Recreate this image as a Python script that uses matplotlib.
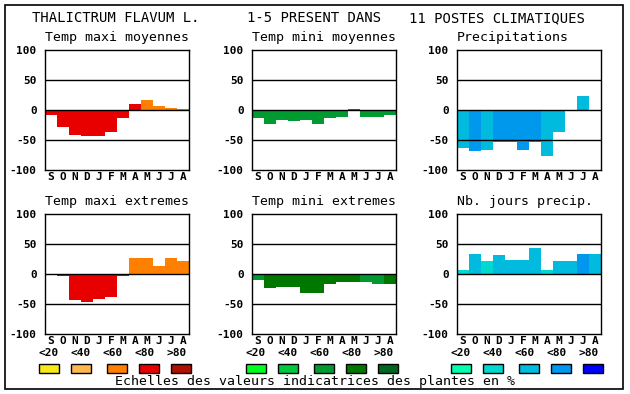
import matplotlib
matplotlib.use('Agg')
import matplotlib.pyplot as plt
from matplotlib.patches import Rectangle

W, H = 630, 394

months = ['S', 'O', 'N', 'D', 'J', 'F', 'M', 'A', 'M', 'J', 'J', 'A']
classes = ['<20', '<40', '<60', '<80', '>80']

# couleurs des classes (niveaux 0..4)
pal_temp = ['#f8e818', '#ffb850', '#ff8000', '#e80000', '#b01000']
pal_froid = ['#00ff20', '#00c840', '#009a30', '#007800', '#006622']
pal_eau = ['#00ffb0', '#00d8d0', '#00bbdd', '#0098ec', '#0000ff']

titles = ['Temp maxi moyennes', 'Temp mini moyennes', 'Precipitations',
          'Temp maxi extremes', 'Temp mini extremes', 'Nb. jours precip.']

tmax_moy = [-8, -28, -42, -43, -44, -36, -14, 10, 17, 7, 3, 2]
tmax_moy_lvl = [3, 3, 3, 3, 3, 3, 3, 3, 2, 2, 2, 2]
tmin_moy = [-14, -23, -17, -18, -16, -23, -13, -11, 2, -11, -11, -8]
tmin_moy_lvl = [2] * 12
precip = [-63, -68, -66, -54, -53, -66, -53, -76, -36, -2, 23, 0]
precip_lvl = [2, 3, 2, 3, 3, 3, 3, 2, 2, 2, 2, 2]
tmax_ext = [-2, -4, -44, -47, -41, -38, -4, 26, 26, 14, 27, 22]
tmax_ext_lvl = [3, 3, 3, 3, 3, 3, 3, 2, 2, 2, 2, 2]
tmin_ext = [-10, -24, -21, -21, -31, -32, -17, -13, -14, -13, -17, -16]
tmin_ext_lvl = [2, 3, 3, 3, 3, 3, 3, 3, 3, 2, 2, 3]
jours = [7, 34, 22, 32, 24, 24, 44, 7, 21, 22, 34, 34]
jours_lvl = [1, 2, 1, 2, 2, 2, 2, 1, 2, 2, 3, 2]

series = [(tmax_moy, tmax_moy_lvl, pal_temp), (tmin_moy, tmin_moy_lvl, pal_froid),
          (precip, precip_lvl, pal_eau), (tmax_ext, tmax_ext_lvl, pal_temp),
          (tmin_ext, tmin_ext_lvl, pal_froid), (jours, jours_lvl, pal_eau)]
palettes = [pal_temp, pal_froid, pal_eau]

mono = 'DejaVu Sans Mono'


def fx(x):
    return x / W


def fy(y):
    return 1 - y / H


fig = plt.figure(figsize=(W / 100, H / 100), dpi=100)
fig.patch.set_facecolor('white')

# cadre
fig.patches.append(Rectangle((fx(5), fy(389)), fx(618), (384) / H, transform=fig.transFigure,
                             fill=False, edgecolor='black', linewidth=1.2))

fig.text(fx(32), fy(18), 'THALICTRUM FLAVUM L.', family=mono, fontsize=10, va='center')
fig.text(fx(247), fy(18), '1-5 PRESENT DANS', family=mono, fontsize=10, va='center')
fig.text(fx(409), fy(18), '11 POSTES CLIMATIQUES', family=mono, fontsize=10, va='center')

lefts = [45, 252, 457]
tops = [50, 214]

for i, (vals, lvl, pal) in enumerate(series):
    left = lefts[i % 3]
    top = tops[i // 3]
    ax = fig.add_axes([fx(left), fy(top + 120), 144 / W, 120 / H])
    ax.bar(range(12), vals, width=1, color=[pal[l] for l in lvl], zorder=1)
    for yv in (50, 0, -50):
        ax.axhline(yv, color='black', lw=1, zorder=3)
    ax.set_xlim(-0.5, 11.5)
    ax.set_ylim(-100, 100)
    ax.set_yticks([-100, -50, 0, 50, 100])
    ax.set_yticklabels(['-100', '-50', '0', '50', '100'], family=mono, fontsize=8, fontweight='bold')
    ax.set_xticks(range(12))
    ax.set_xticklabels(months, family=mono, fontsize=8, fontweight='bold')
    ax.tick_params(length=0)
    ax.tick_params(axis='y', pad=6)
    ax.tick_params(axis='x', pad=1.5)
    for s in ax.spines.values():
        s.set_linewidth(1)
    fig.text(fx(left), fy(top - 12), titles[i], family=mono, fontsize=9.5, va='center')

# echelles
for j, left in enumerate(lefts):
    pal = palettes[j]
    for k in range(5):
        fig.text(fx(left + 4 + 32 * k), fy(353), classes[k], family=mono, fontsize=8,
                 fontweight='bold', ha='center', va='center')
        x0 = left - 6 + [0, 32, 68, 100, 132][k]
        fig.patches.append(Rectangle((fx(x0), fy(373)), 20 / W, 9 / H, transform=fig.transFigure,
                                     facecolor=pal[k], edgecolor='black', linewidth=1))

fig.text(fx(115), fy(382), 'Echelles des valeurs indicatrices des plantes en %', family=mono,
         fontsize=9.5, va='center')

fig.savefig('out.png', dpi=100, facecolor='white')
